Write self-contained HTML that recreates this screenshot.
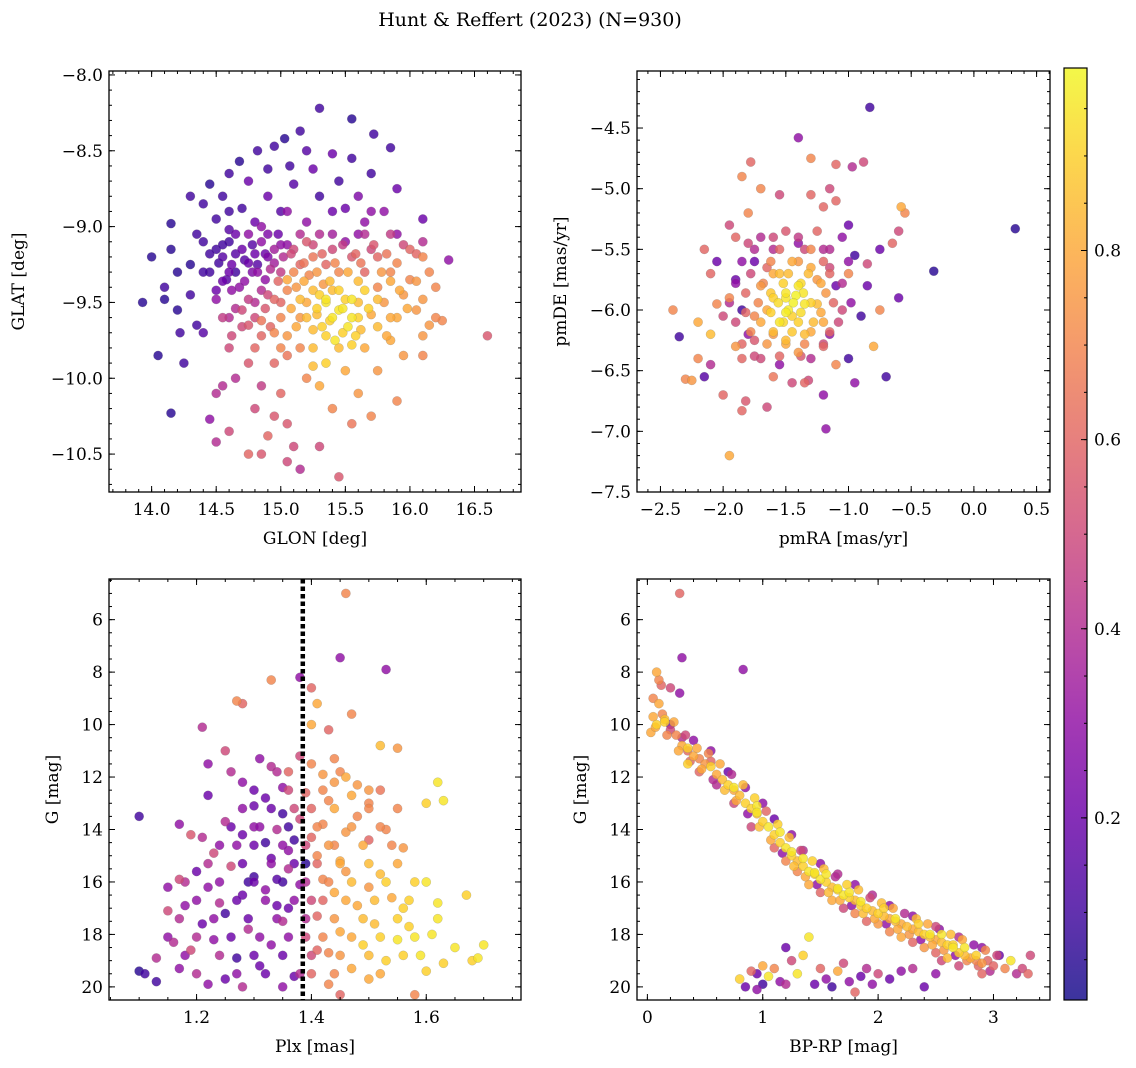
<!DOCTYPE html>
<html><head><meta charset="utf-8"><style>
body{margin:0;background:#fff;}
svg{display:block;font-family:"DejaVu Serif","Liberation Serif",serif;}
</style></head><body>
<svg id="fig" width="1136" height="1068" viewBox="0 0 1136 1068">
<text x="530" y="26" text-anchor="middle" font-size="19">Hunt &amp; Reffert (2023) (N=930)</text>
</svg>
<script>
// ---------- DATA ----------
const p1x=[15.3,15.55,15.15,15.03,15.72,14.95,15.85,14.82,15.2,15.4,14.68,15.07,15.55,14.9,15.25,14.6,15.7,14.45,14.75,15.1,15.45,14.3,14.55,14.9,15.3,15.6,15.9,14.4,14.7,15.05,15.5,15.8,14.15,14.5,14.8,15.2,15.65,16.1,
13.93,14.0,14.05,14.15,14.1,14.2,14.2,14.15,14.3,14.3,14.35,14.4,14.25,14.45,14.5,14.4,14.35,14.1,14.22,
14.5,14.55,14.6,14.62,14.65,14.7,14.72,14.75,14.78,14.8,14.82,14.85,14.88,14.9,14.92,14.95,14.98,15.0,15.02,15.05,14.58,14.68,14.5,14.45,14.6,14.85,
15.1,15.15,15.2,15.22,15.25,15.3,15.35,15.4,15.45,15.5,15.55,15.6,15.65,15.7,15.05,15.12,14.9,15.0,14.8,14.7,14.6,14.75,14.85,14.95,
15.3,15.35,15.4,15.45,15.5,15.55,15.6,15.38,15.28,15.2,15.48,15.62,15.7,15.25,15.42,15.55,15.15,15.33,
15.75,15.8,15.85,15.9,15.95,16.0,16.05,16.1,16.15,16.2,16.25,15.85,15.95,16.1,16.3,16.6,16.1,15.75,16.0,15.9,16.1,
14.6,14.65,14.75,14.8,14.85,14.95,15.0,15.05,15.1,15.15,15.2,15.3,15.3,15.45,15.4,15.5,15.6,15.7,15.75,15.9,14.5,14.6,14.75,14.85,14.9,15.05,14.55,15.15,15.05,15.35,15.25,14.95,15.55,
14.65,14.9,15.15,15.4,15.65,15.85, 14.55,14.78,15.0,15.25,15.48,15.72,15.95, 14.45,14.65,14.88,15.08,15.32,15.58,15.82,16.05,
14.52,14.75,14.95,15.18,15.42,15.62,15.9, 14.4,14.6,14.82,15.1,15.28,15.52,15.78,16.15, 14.55,14.72,14.98,15.18,15.38,15.6,15.85,16.05,
14.62,14.85,15.05,15.25,15.45,15.65,15.92, 14.5,14.75,14.95,15.15,15.35,15.55,15.75,16.1, 14.65,14.88,15.08,15.28,15.48,15.68,15.98,
14.55,14.8,15.0,15.2,15.4,15.6,15.85,16.2, 14.7,14.92,15.12,15.32,15.52,15.75, 14.62,14.85,15.05,15.35,15.58,15.82, 14.8,15.0,15.25,15.45,15.65, 14.6,15.0,15.4,15.7];
const p1y=[-8.22,-8.29,-8.37,-8.42,-8.39,-8.47,-8.48,-8.5,-8.5,-8.52,-8.57,-8.6,-8.55,-8.62,-8.62,-8.65,-8.65,-8.72,-8.7,-8.72,-8.7,-8.8,-8.8,-8.8,-8.8,-8.8,-8.75,-8.85,-8.88,-8.9,-8.88,-8.9,-8.98,-8.95,-8.97,-8.97,-8.97,-8.95,
-9.5,-9.2,-9.85,-10.23,-9.4,-9.3,-9.55,-9.15,-9.45,-9.25,-9.65,-9.7,-9.9,-10.27,-10.1,-9.1,-9.05,-9.48,-9.7,
-9.15,-9.2,-9.1,-9.25,-9.3,-9.15,-9.22,-9.05,-9.3,-9.18,-9.25,-9.1,-9.35,-9.2,-9.28,-9.15,-9.05,-9.3,-9.2,-9.12,-9.35,-9.4,-9.42,-9.3,-9.02,-9.0,
-9.15,-9.25,-9.1,-9.32,-9.2,-9.05,-9.25,-9.15,-9.3,-9.1,-9.2,-9.05,-9.3,-9.15,-9.35,-9.4,-9.45,-9.5,-9.5,-9.55,-9.6,-9.65,-9.62,-9.7,
-9.45,-9.5,-9.42,-9.55,-9.48,-9.6,-9.5,-9.62,-9.58,-9.5,-9.7,-9.68,-9.58,-9.68,-9.75,-9.78,-9.6,-9.38,
-9.4,-9.5,-9.3,-9.6,-9.45,-9.35,-9.55,-9.2,-9.65,-9.4,-9.62,-9.75,-9.85,-9.85,-9.22,-9.72,-9.72,-9.2,-9.15,-9.05,-9.1,
-9.8,-10.0,-9.9,-10.2,-10.05,-9.9,-10.1,-10.3,-10.45,-10.6,-10.0,-10.05,-10.45,-10.65,-10.2,-9.95,-10.1,-10.25,-9.95,-10.15,-10.42,-10.35,-10.5,-10.5,-10.38,-10.55,-10.05,-9.8,-9.85,-9.9,-9.92,-10.25,-10.3,
-9.05,-9.05,-9.05,-9.05,-9.05,-9.05, -9.12,-9.12,-9.12,-9.12,-9.12,-9.12,-9.12, -9.18,-9.18,-9.18,-9.18,-9.18,-9.18,-9.18,-9.18,
-9.24,-9.24,-9.24,-9.24,-9.24,-9.24,-9.24, -9.3,-9.3,-9.3,-9.3,-9.3,-9.3,-9.3,-9.3, -9.36,-9.36,-9.36,-9.36,-9.36,-9.36,-9.36,-9.36,
-9.42,-9.42,-9.42,-9.42,-9.42,-9.42,-9.42, -9.48,-9.48,-9.48,-9.48,-9.48,-9.48,-9.48,-9.48, -9.54,-9.54,-9.54,-9.54,-9.54,-9.54,-9.54,
-9.6,-9.6,-9.6,-9.6,-9.6,-9.6,-9.6,-9.6, -9.66,-9.66,-9.66,-9.66,-9.66,-9.66, -9.72,-9.72,-9.72,-9.72,-9.72,-9.72, -9.8,-9.8,-9.8,-9.8,-9.8, -8.9,-8.9,-8.9,-8.9];
const p1c=[0.1,0.05,0.1,0.05,0.1,0.1,0.1,0.1,0.15,0.2,0.05,0.1,0.1,0.1,0.2,0.1,0.1,0.05,0.2,0.15,0.1,0.1,0.1,0.2,0.1,0.25,0.2,0.1,0.1,0.3,0.2,0.3,0.05,0.1,0.2,0.3,0.3,0.2,
0.05,0.05,0.05,0.05,0.1,0.05,0.05,0.05,0.1,0.05,0.1,0.15,0.1,0.3,0.4,0.1,0.1,0.05,0.1,
0.1,0.15,0.1,0.2,0.1,0.2,0.15,0.3,0.25,0.2,0.15,0.3,0.3,0.25,0.4,0.35,0.2,0.45,0.4,0.3,0.15,0.3,0.2,0.1,0.15,0.3,
0.5,0.6,0.55,0.7,0.65,0.4,0.6,0.5,0.7,0.3,0.55,0.3,0.6,0.5,0.8,0.75,0.5,0.6,0.4,0.5,0.4,0.55,0.65,0.7,
0.9,0.95,0.85,0.95,0.9,0.95,0.85,0.9,0.85,0.8,0.9,0.85,0.8,0.85,0.95,0.9,0.75,0.75,
0.7,0.75,0.7,0.8,0.75,0.7,0.75,0.7,0.75,0.7,0.7,0.8,0.75,0.7,0.3,0.55,0.75,0.6,0.6,0.3,0.4,
0.5,0.4,0.55,0.5,0.45,0.6,0.6,0.55,0.5,0.4,0.7,0.8,0.5,0.55,0.7,0.8,0.75,0.7,0.75,0.7,0.4,0.5,0.6,0.55,0.6,0.5,0.4,0.7,0.65,0.9,0.85,0.55,0.65,
0.2,0.25,0.4,0.35,0.4,0.45, 0.1,0.15,0.3,0.5,0.45,0.55,0.5, 0.1,0.15,0.2,0.5,0.6,0.6,0.65,0.6,
0.1,0.2,0.35,0.65,0.7,0.65,0.7, 0.1,0.2,0.3,0.7,0.75,0.8,0.75,0.7, 0.2,0.3,0.6,0.8,0.85,0.85,0.8,0.75,
0.3,0.4,0.7,0.85,0.9,0.9,0.8, 0.3,0.45,0.6,0.85,0.95,0.95,0.85,0.75, 0.4,0.55,0.8,0.9,0.95,0.9,0.8,
0.45,0.5,0.7,0.85,0.95,0.9,0.8,0.7, 0.5,0.6,0.8,0.9,0.95,0.85, 0.5,0.6,0.75,0.9,0.9,0.8, 0.6,0.7,0.85,0.85,0.8, 0.1,0.15,0.2,0.3];

const p2x=[0.33,-0.83,-1.4,-1.95,-1.18,-0.32,-1.3,-1.78,-1.85,-1.1,-0.97,-0.88,-2.4,-2.35,-2.3,-2.25,-2.2,-2.15,-2.15,-2.1,-2.0,-1.85,-1.82,-1.65,-1.45,-1.32,-1.2,-0.95,-0.8,-0.75,-0.6,-0.6,-0.55,-0.58,-0.75,-0.85,-0.95,-1.0,-1.1,-1.15,-1.2,-1.3,-1.55,-1.7,-1.8,-1.95,-2.05,-2.1,-2.05,-2.2,-2.1,-1.0,-0.9,-0.7,-0.85,-0.65,
-1.9,-1.85,-1.8,-1.75,-1.7,-1.6,-1.55,-1.4,-1.3,-1.2,-1.15,-1.1,-1.05,-1.25,-1.5,-1.7,-1.95,-1.9,-1.6,-1.35,-1.1,-1.0,-1.05,-1.8,-2.0,
-1.7,-1.65,-1.6,-1.55,-1.5,-1.45,-1.4,-1.35,-1.3,-1.25,-1.2,-1.5,-1.45,-1.6,-1.35,-1.55,-1.4,-1.25,-1.75,-1.3,-1.42,-1.48,
-1.65,-1.2,-1.85,-1.15,-1.75,
-1.75,-1.55,-1.35,-1.15, -1.85,-1.62,-1.4,-1.2,-1.0, -1.78,-1.6,-1.48,-1.32,-1.15, -1.9,-1.68,-1.52,-1.38,-1.22,-1.05,
-1.82,-1.62,-1.5,-1.36,-1.18, -1.95,-1.72,-1.56,-1.44,-1.3,-1.12,-0.98, -1.82,-1.62,-1.5,-1.38,-1.22,
-1.9,-1.7,-1.52,-1.4,-1.28,-1.08, -1.78,-1.6,-1.45,-1.3,-1.15, -1.85,-1.65,-1.5,-1.35,-1.2, -1.75,-1.55,-1.38, -1.6,-1.4,-1.9];
const p2y=[-5.33,-4.33,-4.58,-7.2,-6.98,-5.68,-4.75,-4.78,-4.9,-4.8,-4.82,-4.78,-6.0,-6.22,-6.57,-6.58,-6.4,-6.55,-5.5,-6.45,-6.7,-6.83,-6.75,-6.8,-6.6,-6.58,-6.7,-6.6,-6.3,-6.0,-5.9,-5.35,-5.2,-5.15,-5.5,-5.8,-5.55,-5.3,-5.1,-5.0,-5.15,-5.05,-5.05,-5.0,-5.2,-5.3,-5.6,-5.7,-5.95,-6.1,-6.2,-6.4,-6.05,-6.55,-5.62,-5.45,
-5.75,-6.0,-6.2,-5.6,-6.4,-5.5,-6.45,-5.45,-6.4,-5.5,-6.2,-5.8,-6.0,-5.35,-5.35,-5.4,-5.9,-6.3,-6.55,-6.6,-6.45,-5.7,-5.4,-5.45,-6.05,
-5.8,-6.0,-6.2,-5.7,-5.9,-6.05,-5.8,-6.2,-5.65,-5.95,-6.1,-6.25,-5.6,-5.9,-5.95,-6.1,-6.35,-5.75,-6.05,-5.5,-5.88,-6.0,
-5.65,-6.3,-6.4,-5.65,-6.25,
-5.5,-5.5,-5.5,-5.5, -5.6,-5.6,-5.6,-5.6,-5.6, -5.7,-5.7,-5.7,-5.7,-5.7, -5.78,-5.78,-5.78,-5.78,-5.78,-5.78,
-5.86,-5.86,-5.86,-5.86,-5.86, -5.94,-5.94,-5.94,-5.94,-5.94,-5.94,-5.94, -6.02,-6.02,-6.02,-6.02,-6.02,
-6.1,-6.1,-6.1,-6.1,-6.1,-6.1, -6.18,-6.18,-6.18,-6.18,-6.18, -6.28,-6.28,-6.28,-6.28,-6.28, -6.38,-6.38,-6.38, -5.4,-5.4,-5.4];
const p2c=[0.05,0.1,0.3,0.8,0.3,0.05,0.7,0.6,0.7,0.6,0.4,0.5,0.7,0.1,0.7,0.75,0.7,0.15,0.6,0.4,0.6,0.6,0.55,0.5,0.5,0.5,0.3,0.3,0.8,0.7,0.2,0.5,0.7,0.8,0.2,0.2,0.1,0.2,0.6,0.5,0.6,0.6,0.5,0.7,0.7,0.5,0.2,0.6,0.7,0.8,0.85,0.1,0.1,0.1,0.5,0.6,
0.2,0.1,0.3,0.2,0.5,0.4,0.3,0.3,0.4,0.4,0.3,0.2,0.5,0.6,0.55,0.4,0.7,0.75,0.65,0.6,0.7,0.7,0.3,0.5,0.5,
0.75,0.8,0.75,0.85,0.95,0.9,0.95,0.85,0.8,0.85,0.8,0.85,0.8,0.9,0.95,0.95,0.75,0.75,0.7,0.7,0.98,0.97,
0.6,0.6,0.6,0.5,0.55,
0.4,0.6,0.5,0.4, 0.3,0.7,0.75,0.6,0.3, 0.5,0.8,0.85,0.85,0.6, 0.3,0.7,0.9,0.92,0.8,0.4,
0.6,0.88,0.95,0.95,0.75, 0.4,0.7,0.93,0.98,0.9,0.6,0.3, 0.6,0.9,0.97,0.93,0.8,
0.5,0.8,0.92,0.9,0.85,0.5, 0.7,0.85,0.88,0.8,0.6, 0.6,0.75,0.8,0.7,0.5, 0.5,0.6,0.55, 0.5,0.45,0.6];

const p3x=[1.46,1.45,1.53,1.38,1.33,1.27,1.28,1.47,1.4,1.41,1.43,1.4,1.52,1.55,1.62,1.63,1.6,1.21,1.25,1.22,1.1,1.17,1.19,1.22,1.21,1.67,1.7,1.69,1.68,1.6,1.58,1.1,1.11,1.13,1.16,1.15,1.17,1.45,
1.31,1.33,1.36,1.38,1.4,1.42,1.44,1.46,1.48,1.35,1.32,1.39,1.43,1.47,1.5,1.52,1.3,1.28,1.26,1.37,
1.25,1.28,1.3,1.32,1.34,1.36,1.38,1.4,1.42,1.44,1.46,1.48,1.5,1.53,1.56,1.23,1.27,1.41,1.45,1.33,
1.2,1.22,1.24,1.26,1.28,1.3,1.32,1.34,1.36,1.38,1.4,1.42,1.44,1.46,1.48,1.5,1.52,1.54,1.56,1.58,1.62,1.18,1.15,1.25,
1.13,1.17,1.19,1.21,1.23,1.25,1.27,1.29,1.31,1.33,1.35,1.37,1.39,1.41,1.43,1.45,1.47,1.49,1.51,1.53,1.55,1.57,1.59,1.61,1.63,1.65,1.43,1.35,1.28,1.22,1.5,1.4,
1.37,1.39,1.35,1.29,1.36,1.41,1.34,1.44,
1.34,1.45, 1.3,1.36,1.42,1.5, 1.28,1.33,1.4,1.44,1.5,1.55, 1.26,1.31,1.36,1.41,1.47,1.52, 1.24,1.3,1.35,1.39,1.43,1.49,1.54,
1.22,1.28,1.33,1.37,1.41,1.45,1.5,1.55, 1.18,1.24,1.3,1.35,1.39,1.43,1.47,1.53,1.6, 1.2,1.27,1.32,1.37,1.42,1.46,1.51,1.57,
1.17,1.23,1.29,1.34,1.39,1.44,1.49,1.55,1.62, 1.15,1.2,1.26,1.31,1.36,1.42,1.47,1.52,1.58, 1.18,1.24,1.3,1.35,1.4,1.45,1.5,1.56, 1.2,1.27,1.32,1.38,1.44,1.52];
const p3y=[5.0,7.45,7.9,8.2,8.3,9.1,9.2,9.6,8.6,9.2,10.2,10.0,10.8,10.9,12.2,12.9,13.0,10.1,11.0,11.5,13.5,13.8,14.2,12.7,14.3,16.5,18.4,18.9,19.0,19.4,20.3,19.4,19.5,19.8,18.3,16.2,15.9,20.3,
11.3,11.6,11.8,11.2,11.5,11.9,11.3,12.0,12.3,12.4,12.8,12.6,12.9,12.7,13.0,12.5,13.1,12.2,11.8,13.2,
13.7,14.2,13.9,14.5,14.0,14.8,13.6,14.3,13.8,14.6,14.1,13.5,14.4,14.0,14.7,14.9,14.6,15.0,15.2,15.1,
15.6,16.2,16.8,15.4,16.5,15.8,16.3,16.9,15.5,16.1,16.7,15.9,16.4,15.6,16.9,16.2,15.7,16.6,17.0,16.0,16.8,16.9,17.1,17.2,
18.9,19.3,18.6,17.6,18.2,19.7,18.9,17.8,19.2,18.4,17.5,19.6,18.1,17.3,18.7,17.9,19.3,18.4,17.6,19.0,18.2,17.7,18.8,18.0,19.1,18.5,19.9,20.0,20.0,19.9,19.7,19.5,
14.4,15.3,13.4,16.0,17.0,18.6,15.9,12.2,
11.8,11.8, 12.5,12.5,12.5,12.5, 13.2,13.2,13.2,13.2,13.2,13.2, 13.9,13.9,13.9,13.9,13.9,13.9, 14.6,14.6,14.6,14.6,14.6,14.6,14.6,
15.3,15.3,15.3,15.3,15.3,15.3,15.3,15.3, 16.0,16.0,16.0,16.0,16.0,16.0,16.0,16.0,16.0, 16.7,16.7,16.7,16.7,16.7,16.7,16.7,16.7,
17.4,17.4,17.4,17.4,17.4,17.4,17.4,17.4,17.4, 18.1,18.1,18.1,18.1,18.1,18.1,18.1,18.1,18.1, 18.8,18.8,18.8,18.8,18.8,18.8,18.8,18.8, 19.5,19.5,19.5,19.5,19.5,19.5];
const p3c=[0.7,0.3,0.3,0.3,0.7,0.7,0.6,0.7,0.6,0.8,0.6,0.8,0.85,0.75,0.95,0.95,0.9,0.4,0.5,0.3,0.1,0.3,0.55,0.2,0.4,0.9,0.95,0.95,0.9,0.9,0.7,0.05,0.1,0.1,0.4,0.3,0.5,0.6,
0.3,0.4,0.6,0.5,0.7,0.75,0.7,0.8,0.75,0.3,0.2,0.6,0.7,0.8,0.7,0.65,0.2,0.3,0.4,0.5,
0.4,0.2,0.3,0.1,0.4,0.3,0.5,0.6,0.7,0.7,0.75,0.7,0.6,0.7,0.75,0.5,0.3,0.7,0.8,0.2,
0.2,0.3,0.4,0.5,0.2,0.1,0.3,0.2,0.4,0.3,0.5,0.7,0.8,0.75,0.8,0.75,0.85,0.8,0.9,0.9,0.95,0.3,0.5,0.1,
0.4,0.3,0.5,0.2,0.3,0.2,0.1,0.4,0.2,0.3,0.4,0.2,0.5,0.6,0.7,0.8,0.8,0.9,0.85,0.9,0.95,0.9,0.95,0.95,0.9,0.95,0.7,0.3,0.4,0.3,0.8,0.6,
0.1,0.05,0.1,0.1,0.2,0.6,0.15,0.75,
0.4,0.7, 0.2,0.5,0.7,0.75, 0.3,0.2,0.6,0.8,0.7,0.7, 0.2,0.3,0.1,0.7,0.75,0.7, 0.3,0.2,0.3,0.5,0.75,0.8,0.7,
0.4,0.2,0.3,0.2,0.6,0.8,0.85,0.8, 0.4,0.3,0.2,0.1,0.4,0.7,0.85,0.9,0.95, 0.3,0.2,0.3,0.3,0.6,0.8,0.85,0.9,
0.4,0.3,0.2,0.3,0.4,0.75,0.85,0.9,0.95, 0.3,0.4,0.2,0.3,0.3,0.7,0.8,0.9,0.95, 0.3,0.4,0.2,0.2,0.5,0.75,0.85,0.9, 0.4,0.3,0.2,0.4,0.7,0.8];

const p4x=[0.28,0.3,0.83,0.08,0.1,0.12,0.05,0.1,0.2,0.28,0.05,0.08,0.15,0.03,0.2,0.3,
0.25,0.3,0.35,0.4,0.45,0.5,0.55,0.6,0.65,0.7,0.75,0.8,0.85,0.9,0.95,1.0,1.05,1.1,1.15,1.2,1.25,1.3,1.35,1.4,1.45,1.5,1.55,1.6,1.65,1.7,1.75,1.8,1.85,1.9,1.95,2.0,2.05,2.1,2.15,2.2,2.25,2.3,2.35,2.4,2.45,2.5,2.55,2.6,2.65,2.7,2.75,2.8,2.85,2.9,2.95,3.0,3.1,3.15,3.2,3.3,3.32,3.25,
0.2,0.4,0.55,0.7,0.85,1.0,1.1,1.25,1.35,1.5,1.65,1.8,1.95,2.1,2.3,2.5,2.7,2.9,3.05,0.9,1.1,1.3,1.5,1.7,1.9,2.1,2.3,2.5,2.7,2.9,0.6,0.75,1.2,1.4,1.6,1.8,2.0,2.2,2.4,2.6,0.45,0.35,
0.95,1.15,1.35,1.55,1.75,2.05,2.35,2.55,2.75,
0.8,0.85,0.9,0.95,1.0,1.05,1.1,1.15,1.2,1.25,1.3,1.35,1.4,1.45,1.5,1.55,1.6,1.65,1.7,1.75,1.8,1.85,1.9,1.95,2.0,2.1,2.2,2.3,2.4,2.5,2.55,1.0,1.2,0.95,
0.13,0.23,0.33,0.43,0.53,0.63,0.73,0.83,0.93,1.03,1.13,1.23,1.33,1.43,1.53,1.63,1.73,1.83,1.93,2.03,2.13,2.23,2.33,2.43,2.53,2.63,2.73,2.83,2.93,3.03,
0.07,0.17,0.27,0.37,0.47,0.57,0.67,0.77,0.87,0.97,1.07,1.17,1.27,1.37,1.47,1.57,1.67,1.77,1.87,1.97,2.07,2.17,2.27,2.37,2.47,2.57,2.67,2.77,2.87,2.97,
0.15,0.35,0.55,0.75,0.95,1.25,1.45,1.65,1.85,2.15,2.45,2.65,2.85];
const p4y=[5.0,7.45,7.9,8.0,8.3,8.5,9.0,9.2,8.6,8.8,9.7,10.0,9.8,10.3,10.2,10.5,
10.4,10.8,11.0,11.2,11.3,11.5,11.4,11.9,12.1,12.3,12.5,12.7,13.0,13.2,13.4,13.7,13.9,14.2,14.5,14.7,15.0,15.2,15.4,15.6,15.7,15.9,16.0,16.2,16.3,16.5,16.6,16.7,16.9,17.0,17.1,17.2,17.3,17.4,17.5,17.6,17.7,17.8,17.9,18.0,18.1,18.2,18.3,18.4,18.5,18.7,18.8,18.9,19.0,19.1,19.0,19.2,19.3,19.0,19.5,19.5,18.8,19.3,
10.0,10.6,11.0,11.8,12.4,13.0,13.6,14.2,14.8,15.3,15.7,16.1,16.5,16.9,17.3,17.7,18.1,18.5,18.8,13.9,14.7,15.6,16.4,17.0,17.5,17.9,18.3,18.7,19.2,19.5,12.3,13.0,15.2,16.1,16.7,17.2,17.6,18.1,18.5,18.9,11.8,11.5,
13.1,14.1,15.1,15.7,16.4,17.0,17.6,18.0,18.5,
19.7,20.0,19.4,20.1,19.2,19.6,19.3,19.8,18.5,19.0,19.5,18.8,18.1,19.9,19.3,19.7,20.0,19.4,19.1,19.8,20.2,19.6,19.3,19.9,19.5,19.7,19.4,19.3,20.0,19.5,19.0,19.9,19.9,19.5,
9.6,9.9,10.4,10.9,11.1,11.5,11.9,12.3,12.8,13.3,13.8,14.3,14.8,15.2,15.5,15.8,16.1,16.3,16.6,16.8,17.0,17.2,17.4,17.6,17.8,18.0,18.2,18.4,18.6,18.8,
10.1,10.4,11.0,11.4,11.7,12.1,12.5,12.9,13.4,13.9,14.4,14.9,15.4,15.8,16.1,16.4,16.7,16.9,17.2,17.4,17.6,17.8,18.0,18.2,18.4,18.6,18.8,19.0,19.2,19.4,
9.9,10.9,11.6,12.4,13.35,14.85,15.65,16.25,16.75,17.4,18.0,18.4,18.8];
const p4c=[0.6,0.3,0.3,0.8,0.7,0.6,0.7,0.8,0.5,0.3,0.8,0.9,0.85,0.8,0.5,0.4,
0.7,0.8,0.6,0.8,0.7,0.75,0.6,0.8,0.85,0.9,0.8,0.85,0.9,0.9,0.85,0.9,0.95,0.9,0.9,0.95,0.9,0.85,0.9,0.95,0.9,0.95,0.9,0.85,0.9,0.95,0.9,0.85,0.9,0.9,0.85,0.9,0.85,0.8,0.85,0.8,0.85,0.8,0.85,0.9,0.85,0.8,0.85,0.9,0.95,0.9,0.85,0.8,0.7,0.75,0.6,0.6,0.7,0.95,0.4,0.6,0.5,0.5,
0.2,0.3,0.3,0.2,0.3,0.3,0.2,0.3,0.4,0.3,0.4,0.3,0.4,0.3,0.3,0.5,0.4,0.3,0.2,0.5,0.6,0.7,0.6,0.5,0.6,0.7,0.6,0.6,0.5,0.6,0.4,0.5,0.7,0.8,0.8,0.7,0.75,0.8,0.75,0.85,0.6,0.9,
0.95,0.95,0.95,0.95,0.95,0.9,0.9,0.95,0.95,
0.9,0.2,0.6,0.3,0.8,0.95,0.7,0.3,0.2,0.5,0.95,0.9,0.95,0.2,0.6,0.3,0.1,0.8,0.5,0.3,0.6,0.2,0.4,0.3,0.5,0.2,0.3,0.4,0.2,0.3,0.5,0.1,0.4,0.2,
0.7,0.8,0.5,0.8,0.7,0.8,0.4,0.85,0.9,0.6,0.9,0.85,0.5,0.9,0.85,0.4,0.9,0.85,0.5,0.85,0.8,0.4,0.85,0.8,0.3,0.85,0.8,0.3,0.7,0.5,
0.8,0.7,0.8,0.6,0.8,0.4,0.85,0.8,0.3,0.85,0.8,0.3,0.85,0.8,0.3,0.85,0.8,0.3,0.85,0.8,0.3,0.8,0.75,0.3,0.8,0.75,0.3,0.7,0.6,0.4,
0.9,0.9,0.9,0.95,0.95,0.95,0.95,0.95,0.95,0.95,0.95,0.9,0.9];

const cbTicks=[0.2,0.4,0.6,0.8];

// ---------- RENDER ----------
const NS='http://www.w3.org/2000/svg';
const svg=document.getElementById('fig');
function mk(tag,attrs,parent){const e=document.createElementNS(NS,tag);for(const k in attrs)e.setAttribute(k,attrs[k]);(parent||svg).appendChild(e);return e;}
const stops=['#0d0887','#41049d','#6a00a8','#8f0da4','#b12a90','#cc4778','#e16462','#f2844b','#fca636','#fcce25','#f0f921'];
function hex(h){return [1,3,5].map(i=>parseInt(h.substr(i,2),16));}
function plasma(t){t=Math.max(0,Math.min(1,t));const f=t*10,i=Math.min(9,Math.floor(f)),r=f-i;const a=hex(stops[i]),b=hex(stops[i+1]);return 'rgb('+a.map((v,k)=>Math.round(v+(b[k]-v)*r)).join(',')+')';}
function fmt(v,d){const s=Math.abs(v).toFixed(d);return (v<0?'\u2212':'')+s;}

function panel(o){
  const g=mk('g',{});
  
  
  const X=v=>o.L+(v-o.x0)/(o.x1-o.x0)*(o.R-o.L);
  const Y=v=>o.T+(v-o.y0)/(o.y1-o.y0)*(o.B-o.T);
  const clipId='c'+o.name;
  const cp=mk('clipPath',{id:clipId},g);mk('rect',{x:o.L,y:o.T,width:o.R-o.L,height:o.B-o.T},cp);
  const pts=mk('g',{'clip-path':'url(#'+clipId+')'},g);
  
  
  const idx=o.xs.map((_,i)=>i).sort((a,b)=>o.cs[a]-o.cs[b]);
  idx.forEach(i=>{
    const c=mk('circle',{cx:X(o.xs[i]),cy:Y(o.ys[i]),r:4.6,fill:plasma(o.cs[i]),'fill-opacity':0.82,stroke:'#777','stroke-width':0.35,'stroke-opacity':0.6},pts);
    
    
  });
  if(o.vline!==undefined){
    const l=mk('line',{x1:X(o.vline),x2:X(o.vline),y1:o.T,y2:o.B,stroke:'#000','stroke-width':4.5,'stroke-dasharray':'4.5 3'},g);
    
    
  }
  const tk=mk('g',{stroke:'#000','stroke-width':1},g);
  for(let v=o.xmin0;v<=o.x1+1e-9;v+=o.xminor){if(v<o.x0-1e-9)continue;const x=X(v);mk('line',{x1:x,x2:x,y1:o.B,y2:o.B-3},tk);mk('line',{x1:x,x2:x,y1:o.T,y2:o.T+3},tk);}
  for(let v=o.ymin0;v<=Math.max(o.y0,o.y1)+1e-9;v+=o.yminor){if(v<Math.min(o.y0,o.y1)-1e-9)continue;const y=Y(v);mk('line',{x1:o.L,x2:o.L+3,y1:y,y2:y},tk);mk('line',{x1:o.R,x2:o.R-3,y1:y,y2:y},tk);}
  o.xt.forEach(v=>{const x=X(v);mk('line',{x1:x,x2:x,y1:o.B,y2:o.B-6},tk);mk('line',{x1:x,x2:x,y1:o.T,y2:o.T+6},tk);
    const t=mk('text',{x:x,y:o.B+23,'text-anchor':'middle','font-size':17},g);t.textContent=fmt(v,o.xd);
    });
  o.yt.forEach(v=>{const y=Y(v);mk('line',{x1:o.L,x2:o.L+6,y1:y,y2:y},tk);mk('line',{x1:o.R,x2:o.R-6,y1:y,y2:y},tk);
    const t=mk('text',{x:o.L-6,y:y+6,'text-anchor':'end','font-size':17},g);t.textContent=fmt(v,o.yd);
    });
  const fr=mk('rect',{x:o.L,y:o.T,width:o.R-o.L,height:o.B-o.T,fill:'none',stroke:'#000','stroke-width':1.3},g);
  
  const xl=mk('text',{x:(o.L+o.R)/2,y:o.B+52,'text-anchor':'middle','font-size':17},g);xl.textContent=o.xlab;
  
  const yl=mk('text',{x:0,y:0,'text-anchor':'middle','font-size':17,transform:'translate('+o.ylx+','+((o.T+o.B)/2)+') rotate(-90)'},g);yl.textContent=o.ylab;
  
}

panel({name:'glon-glat-panel',L:109,R:521,T:71,B:492,x0:13.67,x1:16.86,y0:-7.974,y1:-10.75,xs:p1x,ys:p1y,cs:p1c,
  xt:[14,14.5,15,15.5,16,16.5],xd:1,xmin0:13.7,xminor:0.1,yt:[-8,-8.5,-9,-9.5,-10,-10.5],yd:1,ymin0:-10.7,yminor:0.1,
  xlab:'GLON [deg]',ylab:'GLAT [deg]',ylx:24});
panel({name:'proper-motion-panel',L:637,R:1050,T:71,B:492,x0:-2.687,x1:0.607,y0:-4.03,y1:-7.5,xs:p2x,ys:p2y,cs:p2c,
  xt:[-2.5,-2,-1.5,-1,-0.5,0,0.5],xd:1,xmin0:-2.6,xminor:0.1,yt:[-4.5,-5,-5.5,-6,-6.5,-7,-7.5],yd:1,ymin0:-7.5,yminor:0.1,
  xlab:'pmRA [mas/yr]',ylab:'pmDE [mas/yr]',ylx:566});
panel({name:'parallax-magnitude-panel',L:109,R:521,T:579,B:1000,x0:1.0475,x1:1.765,y0:4.45,y1:20.5,xs:p3x,ys:p3y,cs:p3c,vline:1.385,
  xt:[1.2,1.4,1.6],xd:1,xmin0:1.05,xminor:0.05,yt:[6,8,10,12,14,16,18,20],yd:0,ymin0:4.5,yminor:0.5,
  xlab:'Plx [mas]',ylab:'G [mag]',ylx:58});
panel({name:'color-magnitude-panel',L:637,R:1050,T:579,B:1000,x0:-0.09,x1:3.49,y0:4.45,y1:20.5,xs:p4x,ys:p4y,cs:p4c,
  xt:[0,1,2,3],xd:0,xmin0:0,xminor:0.2,yt:[6,8,10,12,14,16,18,20],yd:0,ymin0:4.5,yminor:0.5,
  xlab:'BP-RP [mag]',ylab:'G [mag]',ylx:586});

(function(){
  const L=1064,R=1087,T=68,B=1000,v0=0.0074,v1=0.993;
  const Yc=v=>B-(v-v0)/(v1-v0)*(B-T);
  const g=mk('g',{});
  
  
  const defs=mk('defs',{},g);
  const lg=mk('linearGradient',{id:'cbg',x1:0,y1:1,x2:0,y2:0},defs);
  for(let i=0;i<=20;i++){const t=v0+(v1-v0)*i/20;mk('stop',{offset:(i/20),'stop-color':plasma(t),'stop-opacity':0.82},lg);}
  mk('rect',{x:L,y:T,width:R-L,height:B-T,fill:'url(#cbg)',stroke:'#000','stroke-width':1.2},g);
  for(let v=0.05;v<1;v+=0.05){const y=Yc(v);mk('line',{x1:R,x2:R-3,y1:y,y2:y,stroke:'#000','stroke-width':1},g);}
  cbTicks.forEach(v=>{const y=Yc(v);mk('line',{x1:R,x2:R-6,y1:y,y2:y,stroke:'#000','stroke-width':1},g);
    const t=mk('text',{x:R+7,y:y+6,'font-size':17},g);t.textContent=v.toFixed(1);
    });
})();
</script>
</body></html>
